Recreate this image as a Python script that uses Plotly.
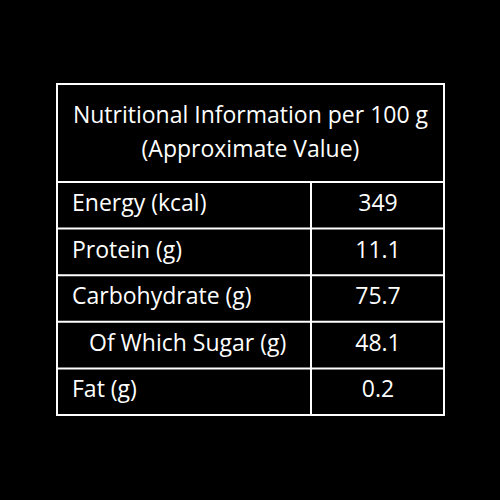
import plotly.graph_objects as go

title_lines = ["Nutritional Information per 100 g", "(Approximate Value)"]
nutrients = ["Energy (kcal)", "Protein (g)", "Carbohydrate (g)", "Of Which Sugar (g)", "Fat (g)"]
values = ["349", "11.1", "75.7", "48.1", "0.2"]
indent = [False, False, False, True, False]

# table geometry in pixel units (axes span the full 500x500 page)
left, right, divider = 57, 444, 311
top, header_bottom, bottom = 84, 182, 415
row_h = (bottom - header_bottom) / len(nutrients)
font = dict(family="Open Sans", size=23, color="white")

fig = go.Figure()

row_y = [header_bottom + row_h * (i + 0.5) for i in range(len(nutrients))]
fig.add_trace(go.Scatter(
    x=[89 if ind else 72 for ind in indent], y=row_y, text=nutrients,
    mode="text", textposition="middle right", textfont=font, hoverinfo="skip"))
fig.add_trace(go.Scatter(
    x=[378] * len(values), y=row_y, text=values,
    mode="text", textposition="middle center", textfont=font, hoverinfo="skip"))
fig.add_trace(go.Scatter(
    x=[(left + right) / 2] * 2, y=[117, 151], text=title_lines,
    mode="text", textposition="middle center", textfont=font, hoverinfo="skip"))

line = dict(color="white", width=2)
fig.add_shape(type="rect", x0=left, x1=right, y0=top, y1=bottom, line=line)
fig.add_shape(type="line", x0=left, x1=right, y0=header_bottom, y1=header_bottom, line=line)
for i in range(1, len(nutrients)):
    y = header_bottom + row_h * i
    fig.add_shape(type="line", x0=left, x1=right, y0=y, y1=y, line=line)
fig.add_shape(type="line", x0=divider, x1=divider, y0=header_bottom, y1=bottom, line=line)

fig.update_xaxes(range=[0, 500], visible=False)
fig.update_yaxes(range=[500, 0], visible=False)
fig.update_layout(
    width=500, height=500, margin=dict(l=0, r=0, t=0, b=0),
    paper_bgcolor="black", plot_bgcolor="black", showlegend=False)
fig.write_html("out.html", config={"displayModeBar": False},
               post_script="document.body.style.margin='0';document.body.style.background='black';")
